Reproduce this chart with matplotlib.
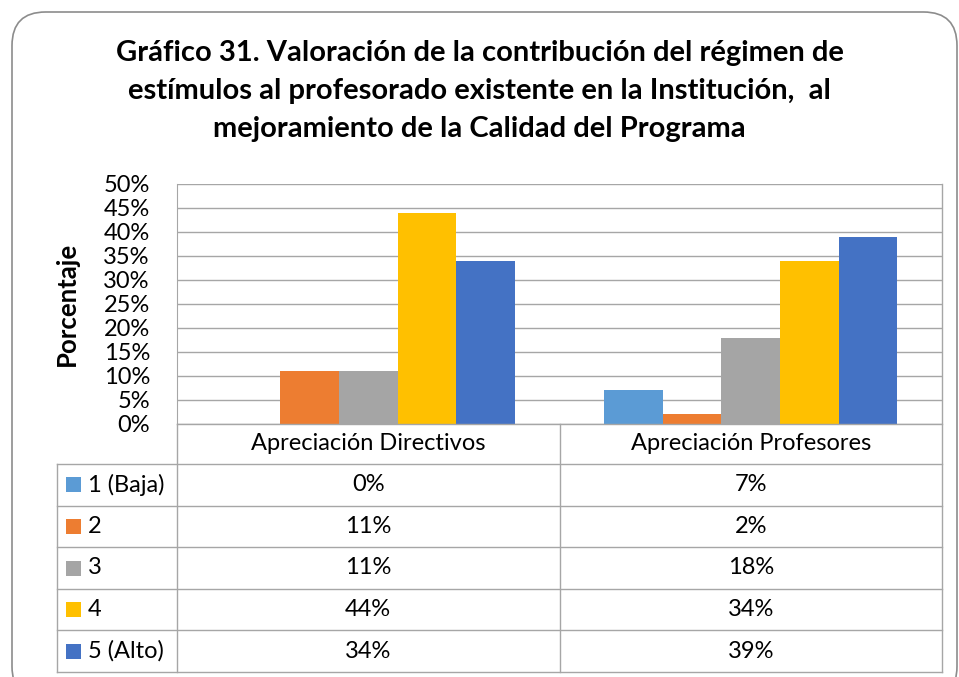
import matplotlib
matplotlib.use("Agg")
import matplotlib.pyplot as plt
from matplotlib.patches import FancyBboxPatch, Rectangle
from matplotlib.lines import Line2D
import numpy as np

plt.rcParams['font.family'] = ['Lato', 'DejaVu Sans']

categories = ["Apreciación Directivos", "Apreciación Profesores"]
series_names = ["1 (Baja)", "2", "3", "4", "5 (Alto)"]
values = {
    "1 (Baja)": [0.00, 0.07],
    "2": [0.11, 0.02],
    "3": [0.11, 0.18],
    "4": [0.44, 0.34],
    "5 (Alto)": [0.34, 0.39],
}
colors = ["#5B9BD5", "#ED7D31", "#A5A5A5", "#FFC000", "#4472C4"]
yticks = [0, 0.05, 0.10, 0.15, 0.20, 0.25, 0.30, 0.35, 0.40, 0.45, 0.50]
title = ("Gráfico 31. Valoración de la contribución del régimen de\n"
         "estímulos al profesorado existente en la Institución,  al\n"
         "mejoramiento de la Calidad del Programa")

W, H = 959, 677
fig = plt.figure(figsize=(W / 100, H / 100), dpi=100)
fig.patch.set_facecolor("white")

def fx(px):
    return px / W

def fy(py):
    return 1 - py / H

FS = 17

# Rounded outer frame
frame = FancyBboxPatch((fx(12), fy(700)), fx(957) - fx(12), fy(12) - fy(700),
                       boxstyle="round,pad=0,rounding_size=0.035",
                       transform=fig.transFigure, fill=False,
                       edgecolor="#8C8C8C", linewidth=1.2, mutation_aspect=W / H)
fig.patches.append(frame)

# Plot axes
ax_l, ax_r, ax_t, ax_b = 177, 942, 184, 424
ax = fig.add_axes([fx(ax_l), fy(ax_b), fx(ax_r) - fx(ax_l), fy(ax_t) - fy(ax_b)])
ax.set_xlim(-0.5, 1.5)
ax.set_ylim(0, 0.5)

n = len(series_names)
bw = 0.153
x = np.arange(len(categories))
for i, (name, c) in enumerate(zip(series_names, colors)):
    offs = (i - (n - 1) / 2) * bw
    ax.bar(x + offs, values[name], width=bw, color=c, zorder=3, linewidth=0)

grid_c = "#A6A6A6"
ax.set_yticks(yticks)
ax.set_yticklabels([f"{int(round(t * 100))}%" for t in yticks], fontsize=FS)
ax.yaxis.grid(True, color=grid_c, linewidth=1.0, zorder=0)
ax.tick_params(axis="y", length=0, pad=19.5)
ax.set_xticks([])
for s in ["top", "right", "bottom"]:
    ax.spines[s].set_visible(False)
ax.spines["left"].set_color(grid_c)
ax.set_ylabel("Porcentaje", fontsize=18.5, fontweight="bold", labelpad=18)

fig.text(0.5, fy(91), title, ha="center", va="center", fontsize=21,
         fontweight="bold", linespacing=1.56)

# Data table beneath the axes
row_top = 424
header_h = 40
row_h = 41.6
left_col = 57
table_bottom = row_top + header_h + row_h * n
line_kw = dict(color=grid_c, linewidth=1.0, transform=fig.transFigure)

fig.add_artist(Line2D([fx(ax_l), fx(ax_l)], [fy(ax_b), fy(table_bottom)], **line_kw))
fig.add_artist(Line2D([fx(ax_r), fx(ax_r)], [fy(ax_t), fy(table_bottom)], **line_kw))
mid_px = ax_l + (ax_r - ax_l) / 2
fig.add_artist(Line2D([fx(mid_px), fx(mid_px)], [fy(row_top), fy(table_bottom)], **line_kw))
fig.add_artist(Line2D([fx(left_col), fx(left_col)], [fy(row_top + header_h), fy(table_bottom)], **line_kw))
fig.add_artist(Line2D([fx(ax_l), fx(ax_r)], [fy(row_top), fy(row_top)], **line_kw))
for r in range(n + 1):
    yy = row_top + header_h + r * row_h
    fig.add_artist(Line2D([fx(left_col), fx(ax_r)], [fy(yy), fy(yy)], **line_kw))

col_centers = [ax_l + (ax_r - ax_l) * (k + 0.5) / len(categories) for k in range(len(categories))]
for k, cat in enumerate(categories):
    fig.text(fx(col_centers[k]), fy(row_top + header_h / 2), cat, ha="center",
             va="center", fontsize=FS)

for r, (name, c) in enumerate(zip(series_names, colors)):
    yc = row_top + header_h + (r + 0.5) * row_h
    fig.add_artist(Rectangle((fx(66), fy(yc + 7.5)), fx(15), fy(0) - fy(15),
                             transform=fig.transFigure, facecolor=c, edgecolor="none"))
    fig.text(fx(88), fy(yc), name, ha="left", va="center", fontsize=FS)
    for k in range(len(categories)):
        fig.text(fx(col_centers[k]), fy(yc), f"{int(round(values[name][k] * 100))}%",
                 ha="center", va="center", fontsize=FS)

fig.savefig("out.png", dpi=100, facecolor="white")
